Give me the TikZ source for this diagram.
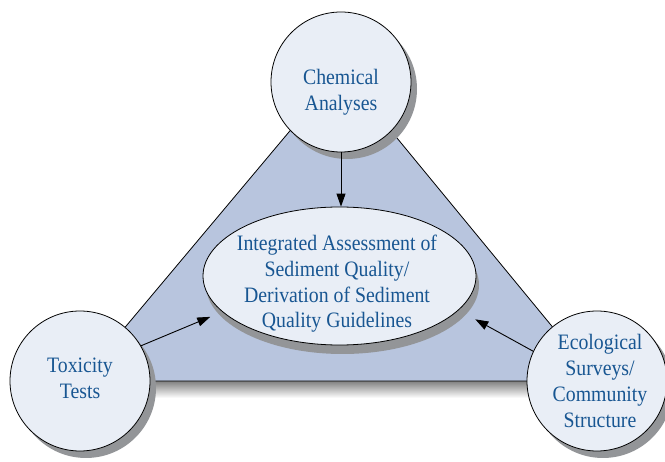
\documentclass[tikz,border=0pt]{standalone}
\usepackage{fontspec}
\setmainfont[FakeStretch=0.9]{Liberation Serif}
\usetikzlibrary{arrows.meta,shapes.geometric}
\definecolor{slab}{RGB}{184,197,222}
\definecolor{disc}{RGB}{233,238,246}
\definecolor{shade}{RGB}{147,149,152}
\definecolor{ink}{RGB}{24,86,146}
\begin{document}
\begin{tikzpicture}[x=1pt,y=-1pt,
  outline/.style={draw=black,line width=0.8pt},
  topic/.style={circle,minimum size=140pt,inner sep=0pt,outline,fill=disc},
  topicshadow/.style={circle,minimum size=140pt,inner sep=0pt,fill=shade},
  centre/.style={ellipse,minimum width=273pt,minimum height=138pt,inner sep=0pt},
  txt/.style={align=center,text=ink,inner sep=0pt,font=\fontsize{22}{25.7}\selectfont},
  arr/.style={-{Triangle[length=13pt,width=9pt]},line width=0.9pt}]
\useasboundingbox (0,0) rectangle (665,462);

% triangle slab with its lower edge band
\fill[shade] (80,381) rectangle (597,398);
\filldraw[fill=slab,outline] (80,381) -- (341,70) -- (597,381) -- cycle;

% central ellipse
\node[centre,fill=shade] (iasqsh) at (342.5,285) {};
\node[centre,outline,fill=disc] (iasq) at (339.5,276) {};
\node[txt] (iasqtxt) at (337,284) {Integrated Assessment of\\Sediment Quality/\\Derivation of Sediment\\Quality Guidelines};

% the three corner discs
\node[topicshadow] (chemsh) at (347,89) {};
\node[topic] (chem) at (341,82) {};
\node[txt] (chemtxt) at (341,92) {Chemical\\Analyses};

\node[topicshadow] (toxsh) at (86,388) {};
\node[topic] (tox) at (80,381) {};
\node[txt] (toxtxt) at (80,378) {Toxicity\\Tests};

\node[topicshadow] (ecosh) at (603,388) {};
\node[topic] (eco) at (597,381) {};
\node[txt] (ecotxt) at (600,381) {Ecological\\Surveys/\\Community\\Structure};

% arrows into the ellipse
\draw[arr] (chem.south) -- (chem.south |- iasq.north);
\draw[arr,shorten >=13pt] (tox.30) -- (iasq.197);
\draw[arr,shorten >=19pt] (eco.155) -- (iasq.344);
\end{tikzpicture}
\end{document}
